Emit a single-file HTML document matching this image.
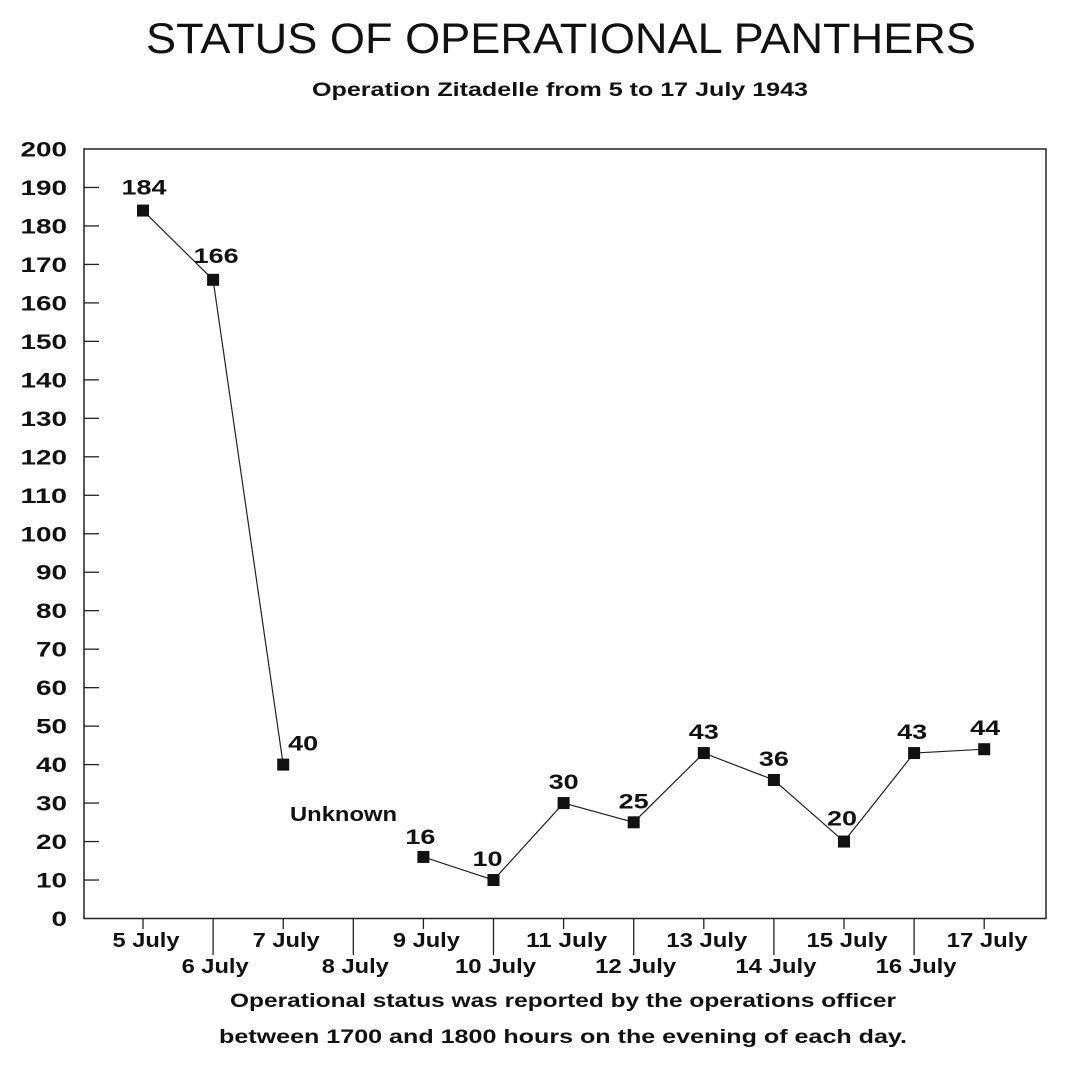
<!DOCTYPE html>
<html><head><style>
body{margin:0;background:#fff}
svg text{font-family:"Liberation Sans",Arial,sans-serif;fill:#111}
</style></head><body>
<svg width="1078" height="1068" viewBox="0 0 1078 1068" xmlns="http://www.w3.org/2000/svg">
<text x="561" y="53" font-size="43" text-anchor="middle" textLength="830" lengthAdjust="spacingAndGlyphs">STATUS OF OPERATIONAL PANTHERS</text>
<text x="560" y="96" font-size="19" font-weight="bold" text-anchor="middle" textLength="496" lengthAdjust="spacingAndGlyphs">Operation Zitadelle from 5 to 17 July 1943</text>
<rect x="84" y="149" width="962" height="769.5" fill="none" stroke="#222" stroke-width="1.5"/>
<g font-size="21" font-weight="bold" id="yl"></g>
<g stroke="#222" stroke-width="1.3" id="yt"></g>
<g stroke="#222" stroke-width="1.3" id="xt"></g>
<g font-size="20" font-weight="bold" id="xl"></g>
<polyline id="ln" fill="none" stroke="#222" stroke-width="1.2"/>
<g id="mk"></g>
<g font-size="21" font-weight="bold" id="vl"></g>
<text x="290" y="821" font-size="20" font-weight="bold" textLength="107" lengthAdjust="spacingAndGlyphs">Unknown</text>
<text x="563" y="1007" font-size="19" font-weight="bold" text-anchor="middle" textLength="666" lengthAdjust="spacingAndGlyphs">Operational status was reported by the operations officer</text>
<text x="563" y="1043" font-size="19" font-weight="bold" text-anchor="middle" textLength="688" lengthAdjust="spacingAndGlyphs">between 1700 and 1800 hours on the evening of each day.</text>
</svg>
<script>
const ns="http://www.w3.org/2000/svg";
function el(p,t,a,txt){const e=document.createElementNS(ns,t);for(const k in a)e.setAttribute(k,a[k]);if(txt!=null)e.textContent=txt;document.getElementById(p).appendChild(e);}
const Y=v=>918.5-v*3.8475;
for(let v=0;v<=200;v+=10){const s=String(v);const w=s.length*15.5;el("yl","text",{x:67-w,y:Y(v)+7.5,textLength:w,lengthAdjust:"spacingAndGlyphs"},s);if(v>0&&v<200)el("yt","line",{x1:84,x2:99,y1:Y(v),y2:Y(v)});}
const X=d=>143+(d-5)*70.1;
for(let d=5;d<=17;d++){const odd=d%2==1;el("xt","line",{x1:X(d),x2:X(d),y1:918,y2:odd?929:955});
const s=d+" July";const w=d<10?67:81;el("xl","text",{x:X(d)+(odd?3:2)-w/2,y:odd?947:973,textLength:w,lengthAdjust:"spacingAndGlyphs"},s);}
const data=[[5,184],[6,166],[7,40],[9,16],[10,10],[11,30],[12,25],[13,43],[14,36],[15,20],[16,43],[17,44]];
const seg1=data.slice(0,3).map(p=>X(p[0])+","+Y(p[1])).join(" ");
const seg2=data.slice(3).map(p=>X(p[0])+","+Y(p[1])).join(" ");
document.getElementById("ln").setAttribute("points",seg1);
el("mk","polyline",{points:seg2,fill:"none",stroke:"#222","stroke-width":1.2});
const off={5:[1,-16],6:[3,-17],7:[20,-14],9:[-3,-13],10:[-6,-14],11:[0,-14],12:[0,-14],13:[0,-14],14:[0,-14],15:[-2,-16],16:[-2,-14],17:[1,-14]};
for(const [d,v] of data){el("mk","rect",{x:X(d)-6,y:Y(v)-6,width:12,height:12,fill:"#111"});
const o=off[d];const s=String(v);const w=s.length*15;el("vl","text",{x:X(d)+o[0]-w/2,y:Y(v)+o[1],textLength:w,lengthAdjust:"spacingAndGlyphs"},s);}
</script>
</body></html>
